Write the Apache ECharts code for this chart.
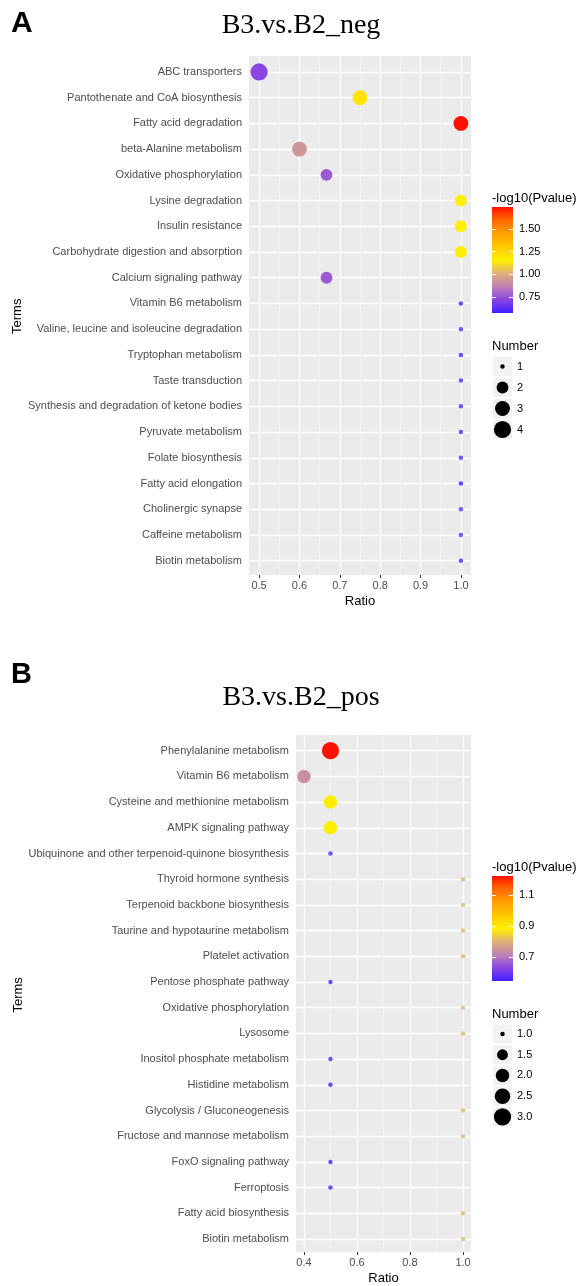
<!DOCTYPE html>
<html>
<head>
<meta charset="utf-8">
<title>B3.vs.B2 bubble plots</title>
<script src="https://cdn.jsdelivr.net/npm/echarts@6/dist/echarts.min.js"></script>
<style>
  * { margin: 0; padding: 0; }
  body { background: #fff; }
  #main { width: 581px; height: 1286px; }
</style>
</head>
<body>
<div id="main"></div>
<script>
// ---- panel A : B3.vs.B2_neg ----
var termsA = ['ABC transporters', 'Pantothenate and CoA biosynthesis', 'Fatty acid degradation',
  'beta-Alanine metabolism', 'Oxidative phosphorylation', 'Lysine degradation', 'Insulin resistance',
  'Carbohydrate digestion and absorption', 'Calcium signaling pathway', 'Vitamin B6 metabolism',
  'Valine, leucine and isoleucine degradation', 'Tryptophan metabolism', 'Taste transduction',
  'Synthesis and degradation of ketone bodies', 'Pyruvate metabolism', 'Folate biosynthesis',
  'Fatty acid elongation', 'Cholinergic synapse', 'Caffeine metabolism', 'Biotin metabolism'];
var ratioA = [0.5, 0.75, 1.0, 0.6, 0.667, 1.0, 1.0, 1.0, 0.667, 1.0, 1.0, 1.0, 1.0, 1.0, 1.0, 1.0, 1.0, 1.0, 1.0, 1.0];
var logpA = [0.72, 1.2, 1.742, 0.93, 0.77, 1.16, 1.16, 1.16, 0.77, 0.6, 0.62, 0.59, 0.62, 0.61, 0.6, 0.62, 0.574, 0.63, 0.63, 0.61];
var numA = [4, 3, 3, 3, 2, 2, 2, 2, 2, 1, 1, 1, 1, 1, 1, 1, 1, 1, 1, 1];

// ---- panel B : B3.vs.B2_pos ----
var termsB = ['Phenylalanine metabolism', 'Vitamin B6 metabolism', 'Cysteine and methionine metabolism',
  'AMPK signaling pathway', 'Ubiquinone and other terpenoid-quinone biosynthesis', 'Thyroid hormone synthesis',
  'Terpenoid backbone biosynthesis', 'Taurine and hypotaurine metabolism', 'Platelet activation',
  'Pentose phosphate pathway', 'Oxidative phosphorylation', 'Lysosome', 'Inositol phosphate metabolism',
  'Histidine metabolism', 'Glycolysis / Gluconeogenesis', 'Fructose and mannose metabolism',
  'FoxO signaling pathway', 'Ferroptosis', 'Fatty acid biosynthesis', 'Biotin metabolism'];
var ratioB = [0.5, 0.4, 0.5, 0.5, 0.5, 1.0, 1.0, 1.0, 1.0, 0.5, 1.0, 1.0, 0.5, 0.5, 1.0, 1.0, 0.5, 0.5, 1.0, 1.0];
var logpB = [1.224, 0.74, 0.89, 0.89, 0.56, 0.81, 0.81, 0.81, 0.81, 0.56, 0.81, 0.81, 0.56, 0.548, 0.81, 0.81, 0.56, 0.56, 0.81, 0.81];
var numB = [3, 2, 2, 2, 1, 1, 1, 1, 1, 1, 1, 1, 1, 1, 1, 1, 1, 1, 1, 1];

// axis / legend ticks
var xTicksA = [0.5, 0.6, 0.7, 0.8, 0.9, 1.0];
var xTicksB = [0.4, 0.6, 0.8, 1.0];
var colorTicksA = [0.75, 1.00, 1.25, 1.50];
var colorTicksB = [0.7, 0.9, 1.1];
var sizeKeysA = [1, 2, 3, 4];
var sizeKeysB = [1.0, 1.5, 2.0, 2.5, 3.0];

// blue -> yellow -> red, like ggplot's lab interpolation
var stops = ['#4020FF', '#8A45E2', '#BE82B4', '#E0B078', '#FFF000', '#FFC800', '#FFA000', '#FF6A00', '#FF1000'];

var sans = 'Liberation Sans, Arial, sans-serif';
var serif = 'Liberation Serif, Times New Roman, serif';

function minOf(a) { return Math.min.apply(null, a); }
function maxOf(a) { return Math.max.apply(null, a); }

// area scale, like scale_size()
function dotSize(n, lo, hi) {
  return 4.5 + 12.7 * Math.sqrt((n - lo) / (hi - lo));
}

function pointData(terms, ratio, logp, num) {
  return terms.map(function (t, i) {
    return { value: [ratio[i], t, logp[i], num[i]], itemStyle: { opacity: num[i] === 1 ? 0.8 : 1 } };
  });
}

var gradient = new echarts.graphic.LinearGradient(0, 1, 0, 0, stops.map(function (c, i) {
  return { offset: i / (stops.length - 1), color: c };
}));

function panelX(grid, min, max, split, ticks) {
  return {
    type: 'value', gridIndex: grid, min: min, max: max, splitNumber: split,
    axisLine: { show: false },
    axisTick: { customValues: ticks, length: 3, lineStyle: { color: '#333' } },
    axisLabel: { customValues: ticks, margin: 5, fontSize: 11, color: '#4D4D4D', fontFamily: sans,
      formatter: function (v) { return v.toFixed(1); } },
    splitLine: { show: true, lineStyle: { color: '#fff', width: 1.3 } },
    minorTick: { show: false, splitNumber: 2 },
    minorSplitLine: { show: true, lineStyle: { color: '#F6F6F6', width: 0.6 } },
    name: 'Ratio', nameLocation: 'middle', nameGap: 20,
    nameTextStyle: { fontSize: 13, color: '#000', fontFamily: sans }
  };
}

function hiddenAxis(grid, min, max) {
  return { type: 'value', gridIndex: grid, min: min, max: max, show: false };
}

function termsY(grid, terms, gap) {
  return {
    type: 'category', gridIndex: grid, data: terms, inverse: true,
    axisLine: { show: false },
    axisTick: { alignWithLabel: true, length: 4, lineStyle: { color: '#333' } },
    axisLabel: { interval: 0, margin: 7, fontSize: 11, color: '#4D4D4D', fontFamily: sans },
    splitLine: { show: true, alignWithLabel: true, interval: 0, lineStyle: { color: '#fff', width: 1.3 } },
    name: 'Terms', nameLocation: 'middle', nameGap: gap,
    nameTextStyle: { fontSize: 13, color: '#000', fontFamily: sans }
  };
}

function barY(grid, range, ticks, pos, labels, digits) {
  return {
    type: 'value', gridIndex: grid, min: range[0], max: range[1], position: pos,
    axisLine: { show: false }, splitLine: { show: false },
    axisTick: { inside: true, customValues: ticks, length: 4, lineStyle: { color: '#fff', width: 1 } },
    axisLabel: { show: labels, customValues: ticks, margin: 6, fontSize: 11, color: '#000', fontFamily: sans,
      formatter: function (v) { return v.toFixed(digits); } }
  };
}

function keyY(grid, keys, digits) {
  return {
    type: 'category', gridIndex: grid, inverse: true, position: 'right',
    data: keys.map(function (k) { return k.toFixed(digits); }),
    axisLine: { show: false }, axisTick: { show: false },
    axisLabel: { margin: 5, fontSize: 11, color: '#000', fontFamily: sans }
  };
}

var rangeA = [minOf(logpA), maxOf(logpA)];
var rangeB = [minOf(logpB), maxOf(logpB)];
var nA = [minOf(numA), maxOf(numA)];
var nB = [minOf(numB), maxOf(numB)];

function keySeries(xi, yi, keys, digits, lo, hi) {
  return [{
    type: 'scatter', xAxisIndex: xi, yAxisIndex: yi, silent: true, symbol: 'rect', symbolSize: 19,
    itemStyle: { color: '#F2F2F2', opacity: 1 },
    data: keys.map(function (k) { return [0.5, k.toFixed(digits)]; })
  }, {
    type: 'scatter', xAxisIndex: xi, yAxisIndex: yi, silent: true,
    symbolSize: function (v) { return dotSize(Number(v[1]), lo, hi); },
    itemStyle: { color: '#000', opacity: 1 },
    data: keys.map(function (k) { return [0.5, k.toFixed(digits)]; })
  }];
}

var chart = echarts.init(document.getElementById('main'));

var option = {
  animation: false,
  backgroundColor: '#fff',
  textStyle: { fontFamily: sans },
  grid: [
    { left: 249, top: 56, width: 222, height: 519, show: true, backgroundColor: '#EBEBEB', borderWidth: 0 },
    { left: 249, top: 59.1, width: 222, height: 514.4 },
    { left: 296, top: 735, width: 175, height: 518.3, show: true, backgroundColor: '#EBEBEB', borderWidth: 0 },
    { left: 296, top: 737.85, width: 175, height: 514 },
    { left: 492, top: 207, width: 21, height: 106, show: true, backgroundColor: gradient, borderWidth: 0 },
    { left: 492, top: 876, width: 21, height: 105, show: true, backgroundColor: gradient, borderWidth: 0 },
    { left: 493, top: 356, width: 19, height: 84 },
    { left: 493, top: 1023.7, width: 19, height: 103.5 }
  ],
  xAxis: [
    panelX(0, 0.475, 1.025, 5, xTicksA),
    hiddenAxis(1, 0.475, 1.025),
    panelX(2, 0.37, 1.03, 3, xTicksB),
    hiddenAxis(3, 0.37, 1.03),
    hiddenAxis(4, 0, 1),
    hiddenAxis(5, 0, 1),
    hiddenAxis(6, 0, 1),
    hiddenAxis(7, 0, 1)
  ],
  yAxis: [
    hiddenAxis(0, 0, 1),
    termsY(1, termsA, 220),
    hiddenAxis(2, 0, 1),
    termsY(3, termsB, 267),
    barY(4, rangeA, colorTicksA, 'left', false, 2),
    barY(4, rangeA, colorTicksA, 'right', true, 2),
    barY(5, rangeB, colorTicksB, 'left', false, 1),
    barY(5, rangeB, colorTicksB, 'right', true, 1),
    keyY(6, sizeKeysA, 0),
    keyY(7, sizeKeysB, 1)
  ],
  visualMap: [
    { type: 'continuous', show: false, seriesIndex: 0, dimension: 2, min: rangeA[0], max: rangeA[1], inRange: { color: stops } },
    { type: 'continuous', show: false, seriesIndex: 1, dimension: 2, min: rangeB[0], max: rangeB[1], inRange: { color: stops } }
  ],
  series: [
    { type: 'scatter', xAxisIndex: 1, yAxisIndex: 1, z: 3,
      symbolSize: function (v) { return dotSize(v[3], nA[0], nA[1]); },
      data: pointData(termsA, ratioA, logpA, numA) },
    { type: 'scatter', xAxisIndex: 3, yAxisIndex: 3, z: 3,
      symbolSize: function (v) { return dotSize(v[3], nB[0], nB[1]); },
      data: pointData(termsB, ratioB, logpB, numB) }
  ].concat(keySeries(6, 8, sizeKeysA, 0, nA[0], nA[1]))
   .concat(keySeries(7, 9, sizeKeysB, 1, nB[0], nB[1])),
  graphic: [
    { type: 'text', x: 11, y: 24, style: { text: 'A', font: 'bold 30px ' + sans, fill: '#000', verticalAlign: 'middle' } },
    { type: 'text', x: 11, y: 675, style: { text: 'B', font: 'bold 29px ' + sans, fill: '#000', verticalAlign: 'middle' } },
    { type: 'text', x: 301, y: 26, style: { text: 'B3.vs.B2_neg', font: '28px ' + serif, fill: '#000', align: 'center', verticalAlign: 'middle' } },
    { type: 'text', x: 301, y: 698, style: { text: 'B3.vs.B2_pos', font: '28px ' + serif, fill: '#000', align: 'center', verticalAlign: 'middle' } },
    { type: 'text', x: 492, y: 198, style: { text: '-log10(Pvalue)', font: '13px ' + sans, fill: '#000', verticalAlign: 'middle' } },
    { type: 'text', x: 492, y: 867, style: { text: '-log10(Pvalue)', font: '13px ' + sans, fill: '#000', verticalAlign: 'middle' } },
    { type: 'text', x: 492, y: 346, style: { text: 'Number', font: '13px ' + sans, fill: '#000', verticalAlign: 'middle' } },
    { type: 'text', x: 492, y: 1014, style: { text: 'Number', font: '13px ' + sans, fill: '#000', verticalAlign: 'middle' } }
  ]
};

chart.setOption(option);
</script>
</body>
</html>
